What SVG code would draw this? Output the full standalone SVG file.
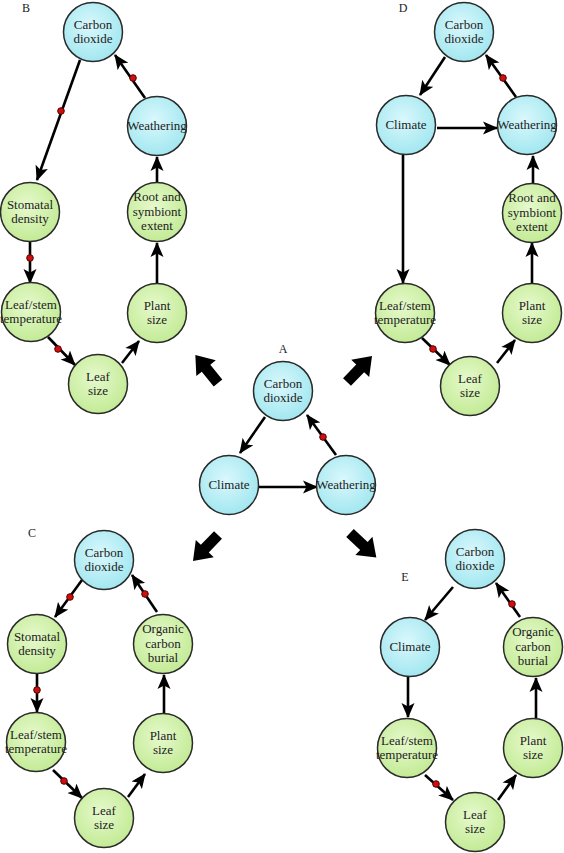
<svg xmlns="http://www.w3.org/2000/svg" width="564" height="853" viewBox="0 0 564 853">
<defs>
<radialGradient id="gb" cx="45%" cy="40%" r="60%"><stop offset="0" stop-color="#d9f8fc"/><stop offset="1" stop-color="#a3e7f0"/></radialGradient>
<radialGradient id="gg" cx="45%" cy="40%" r="60%"><stop offset="0" stop-color="#e6f9cc"/><stop offset="1" stop-color="#c3eb96"/></radialGradient>
<marker id="ah" markerUnits="userSpaceOnUse" markerWidth="16" markerHeight="14" refX="14" refY="7" orient="auto"><path d="M0,0.5 L15,7 L0,13.5 L3.5,7 Z" fill="#000"/></marker>
<polygon id="big" points="0,-5.5 19,-5.5 19,-12.5 36,0 19,12.5 19,5.5 0,5.5" fill="#000"/>
</defs>
<style>
.b{fill:url(#gb);stroke:#2a2a2a;stroke-width:1.5}
.g{fill:url(#gg);stroke:#2a2a2a;stroke-width:1.5}
text{font-family:"Liberation Serif","Times New Roman",serif;font-size:13px;fill:#222;text-anchor:middle}
.lab{font-size:12px}
.c line{stroke:#000;stroke-width:2.6;marker-end:url(#ah)}
.d{fill:#cc1010;stroke:#500;stroke-width:1}
</style>
<rect width="564" height="853" fill="#fff"/>
<g id="labels">
<text class="lab" x="26" y="12">B</text>
<text class="lab" x="403" y="12">D</text>
<text class="lab" x="283" y="353">A</text>
<text class="lab" x="32" y="537">C</text>
<text class="lab" x="405" y="581">E</text>
</g>
<g id="big-arrows">
<use href="#big" transform="translate(218,383) rotate(-129)"/>
<use href="#big" transform="translate(347,382) rotate(-46)"/>
<use href="#big" transform="translate(218,535) rotate(134)"/>
<use href="#big" transform="translate(350,533) rotate(43)"/>
</g>
<g id="connectors" class="c">
<!-- B -->
<line x1="80" y1="60" x2="37" y2="180"/>
<line x1="145" y1="98" x2="115" y2="55"/>
<line x1="157" y1="183" x2="157" y2="157"/>
<line x1="30" y1="242" x2="30" y2="283"/>
<line x1="48" y1="337" x2="75" y2="365"/>
<line x1="122" y1="363" x2="139" y2="341"/>
<line x1="157" y1="283" x2="157" y2="243"/>
<!-- A -->
<line x1="265" y1="417" x2="240" y2="453"/>
<line x1="336" y1="455" x2="307" y2="415"/>
<line x1="258" y1="487" x2="317" y2="487"/>
<!-- D -->
<line x1="445" y1="57" x2="420" y2="95"/>
<line x1="516" y1="97" x2="486" y2="55"/>
<line x1="437" y1="128" x2="497" y2="128"/>
<line x1="403" y1="155" x2="403" y2="283"/>
<line x1="422" y1="338" x2="450" y2="365"/>
<line x1="497" y1="363" x2="515" y2="340"/>
<line x1="532" y1="283" x2="532" y2="243"/>
<line x1="533" y1="183" x2="533" y2="156"/>
<!-- C -->
<line x1="82" y1="580" x2="55" y2="617"/>
<line x1="157" y1="612" x2="132" y2="575"/>
<line x1="37" y1="674" x2="37" y2="712"/>
<line x1="164" y1="713" x2="164" y2="675"/>
<line x1="53" y1="770" x2="82" y2="798"/>
<line x1="128" y1="797" x2="145" y2="774"/>
<!-- E -->
<line x1="453" y1="587" x2="425" y2="620"/>
<line x1="520" y1="617" x2="496" y2="583"/>
<line x1="408" y1="677" x2="408" y2="717"/>
<line x1="536" y1="718" x2="536" y2="678"/>
<line x1="425" y1="775" x2="453" y2="800"/>
<line x1="498" y1="800" x2="516" y2="775"/>
<!-- red dots -->
<circle class="d" cx="61" cy="111" r="3.3"/>
<circle class="d" cx="133" cy="78" r="3.3"/>
<circle class="d" cx="30" cy="258" r="3.3"/>
<circle class="d" cx="58" cy="349" r="3.3"/>
<circle class="d" cx="323" cy="437" r="3.3"/>
<circle class="d" cx="503" cy="78" r="3.3"/>
<circle class="d" cx="433" cy="349" r="3.3"/>
<circle class="d" cx="70" cy="597" r="3.3"/>
<circle class="d" cx="145" cy="594" r="3.3"/>
<circle class="d" cx="37" cy="690" r="3.3"/>
<circle class="d" cx="64" cy="781" r="3.3"/>
<circle class="d" cx="512" cy="604" r="3.3"/>
<circle class="d" cx="436" cy="784" r="3.3"/>
</g>
<!-- Panel B -->
<g id="B-co2"><circle class="b" cx="93" cy="32" r="29.5"/><text x="93" y="29">Carbon</text><text x="93" y="43">dioxide</text></g>
<g id="B-weathering"><circle class="b" cx="157" cy="126" r="29.5"/><text x="157" y="130">Weathering</text></g>
<g id="B-stomatal"><circle class="g" cx="30" cy="212" r="29.5"/><text x="30" y="209">Stomatal</text><text x="30" y="223">density</text></g>
<g id="B-root"><circle class="g" cx="157" cy="212" r="29.5"/><text x="157" y="201">Root and</text><text x="157" y="216">symbiont</text><text x="157" y="230">extent</text></g>
<g id="B-leafstem"><circle class="g" cx="31" cy="312" r="29.5"/><text x="31" y="309">Leaf/stem</text><text x="31" y="323">temperature</text></g>
<g id="B-plant"><circle class="g" cx="157" cy="313" r="29.5"/><text x="157" y="310">Plant</text><text x="157" y="324">size</text></g>
<g id="B-leaf"><circle class="g" cx="98" cy="384" r="29.5"/><text x="98" y="381">Leaf</text><text x="98" y="395">size</text></g>
<!-- Panel A -->
<g id="A-co2"><circle class="b" cx="283" cy="391" r="29.5"/><text x="283" y="388">Carbon</text><text x="283" y="402">dioxide</text></g>
<g id="A-climate"><circle class="b" cx="229" cy="485" r="29.5"/><text x="229" y="489">Climate</text></g>
<g id="A-weathering"><circle class="b" cx="346" cy="485" r="29.5"/><text x="346" y="489">Weathering</text></g>
<!-- Panel D -->
<g id="D-co2"><circle class="b" cx="464" cy="32" r="29.5"/><text x="464" y="29">Carbon</text><text x="464" y="43">dioxide</text></g>
<g id="D-climate"><circle class="b" cx="406" cy="125" r="29.5"/><text x="406" y="129">Climate</text></g>
<g id="D-weathering"><circle class="b" cx="527" cy="125" r="29.5"/><text x="527" y="129">Weathering</text></g>
<g id="D-root"><circle class="g" cx="532" cy="213" r="29.5"/><text x="532" y="202">Root and</text><text x="532" y="217">symbiont</text><text x="532" y="231">extent</text></g>
<g id="D-leafstem"><circle class="g" cx="405" cy="313" r="29.5"/><text x="405" y="310">Leaf/stem</text><text x="405" y="324">temperature</text></g>
<g id="D-plant"><circle class="g" cx="532" cy="313" r="29.5"/><text x="532" y="310">Plant</text><text x="532" y="324">size</text></g>
<g id="D-leaf"><circle class="g" cx="470" cy="386" r="29.5"/><text x="470" y="383">Leaf</text><text x="470" y="397">size</text></g>
<!-- Panel C -->
<g id="C-co2"><circle class="b" cx="104" cy="560" r="29.5"/><text x="104" y="557">Carbon</text><text x="104" y="571">dioxide</text></g>
<g id="C-stomatal"><circle class="g" cx="37" cy="644" r="29.5"/><text x="37" y="641">Stomatal</text><text x="37" y="655">density</text></g>
<g id="C-organic"><circle class="g" cx="163" cy="644" r="29.5"/><text x="163" y="633">Organic</text><text x="163" y="648">carbon</text><text x="163" y="662">burial</text></g>
<g id="C-leafstem"><circle class="g" cx="36" cy="742" r="29.5"/><text x="36" y="739">Leaf/stem</text><text x="36" y="753">temperature</text></g>
<g id="C-plant"><circle class="g" cx="163" cy="743" r="29.5"/><text x="163" y="740">Plant</text><text x="163" y="754">size</text></g>
<g id="C-leaf"><circle class="g" cx="104" cy="818" r="29.5"/><text x="104" y="815">Leaf</text><text x="104" y="829">size</text></g>
<!-- Panel E -->
<g id="E-co2"><circle class="b" cx="475" cy="559" r="29.5"/><text x="475" y="556">Carbon</text><text x="475" y="570">dioxide</text></g>
<g id="E-climate"><circle class="b" cx="410" cy="647" r="29.5"/><text x="410" y="651">Climate</text></g>
<g id="E-organic"><circle class="g" cx="533" cy="647" r="29.5"/><text x="533" y="636">Organic</text><text x="533" y="651">carbon</text><text x="533" y="665">burial</text></g>
<g id="E-leafstem"><circle class="g" cx="407" cy="748" r="29.5"/><text x="407" y="745">Leaf/stem</text><text x="407" y="759">temperature</text></g>
<g id="E-plant"><circle class="g" cx="533" cy="748" r="29.5"/><text x="533" y="745">Plant</text><text x="533" y="759">size</text></g>
<g id="E-leaf"><circle class="g" cx="475" cy="822" r="29.5"/><text x="475" y="819">Leaf</text><text x="475" y="833">size</text></g>
</svg>
